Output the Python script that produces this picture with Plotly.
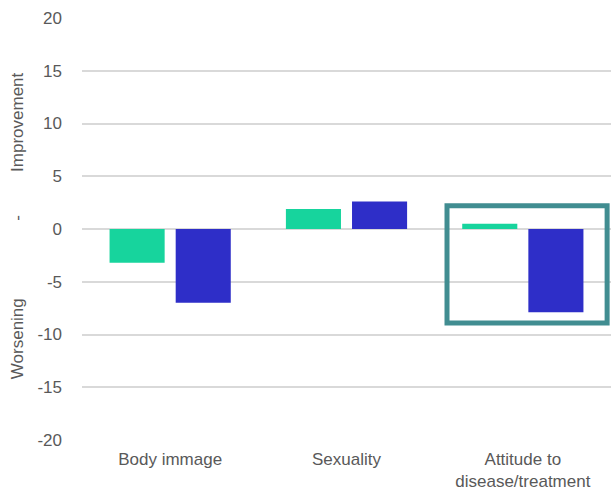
import plotly.graph_objects as go

# Change from baseline per domain
categories = ["Body immage", "Sexuality", "Attitude to<br>disease/treatment"]
group_a = [-3.2, 1.9, 0.5]
group_b = [-7.0, 2.6, -7.9]
y_ticks = [-20, -15, -10, -5, 0, 5, 10, 15, 20]
y_tick_labels = ["-20", "-15", "-10", "-5", "0", "5", "10", "15", "20"]

FONT = "Liberation Sans, Arial, sans-serif"
TEXT_COLOR = "#595959"
GRID_COLOR = "#d9d9d9"

fig = go.Figure()
fig.add_trace(go.Bar(x=categories, y=group_a, name="Group A",
                     marker=dict(color="#17d49d", line=dict(width=0))))
fig.add_trace(go.Bar(x=categories, y=group_b, name="Group B",
                     marker=dict(color="#2e2ec8", line=dict(width=0))))

# Highlight frame around the last domain
fig.add_shape(type="rect", xref="x", yref="y",
              x0=1.57, x1=2.478, y0=-8.9, y1=2.2,
              line=dict(color="#418d91", width=5), fillcolor="rgba(0,0,0,0)",
              layer="above")

# Split y-axis title
for text, yv in [("Improvement", 10.1), ("-", 1.1), ("Worsening", -10.4)]:
    fig.add_annotation(text=text, xref="paper", yref="y", x=-0.122, y=yv,
                       xanchor="center", yanchor="middle", textangle=-90,
                       showarrow=False,
                       font=dict(family=FONT, size=17, color=TEXT_COLOR))

fig.update_layout(
    width=611, height=501,
    margin=dict(l=82, r=0, t=18, b=61),
    paper_bgcolor="white", plot_bgcolor="white",
    barmode="group", bargap=0.25, bargroupgap=0.167,
    showlegend=False,
    font=dict(family=FONT, size=17, color=TEXT_COLOR),
)
fig.update_yaxes(range=[-20, 20], tickvals=y_ticks, ticktext=y_tick_labels,
                 showgrid=True, gridcolor=GRID_COLOR, gridwidth=1.5,
                 zeroline=True, zerolinecolor=GRID_COLOR, zerolinewidth=1.5,
                 ticklabelstandoff=19, showline=False,
                 tickfont=dict(family=FONT, size=17, color=TEXT_COLOR))
fig.update_xaxes(showgrid=False, showline=False, ticks="",
                 ticklabelstandoff=7,
                 tickfont=dict(family=FONT, size=17, color=TEXT_COLOR))

fig.write_html("out.html")
